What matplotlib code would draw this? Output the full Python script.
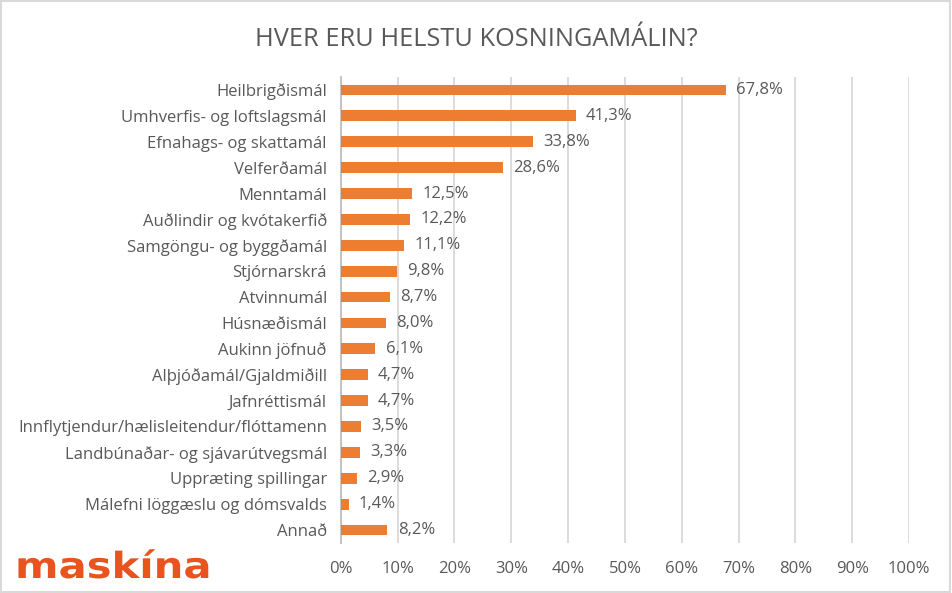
import matplotlib.pyplot as plt
from matplotlib.patches import Rectangle, PathPatch
from matplotlib.textpath import TextPath
from matplotlib.font_manager import FontProperties
from matplotlib.transforms import Affine2D, IdentityTransform

categories = ["Heilbrigðismál", "Umhverfis- og loftslagsmál", "Efnahags- og skattamál",
              "Velferðamál", "Menntamál", "Auðlindir og kvótakerfið",
              "Samgöngu- og byggðamál", "Stjórnarskrá", "Atvinnumál", "Húsnæðismál",
              "Aukinn jöfnuð", "Alþjóðamál/Gjaldmiðill", "Jafnréttismál",
              "Innflytjendur/hælisleitendur/flóttamenn", "Landbúnaðar- og sjávarútvegsmál",
              "Uppræting spillingar", "Málefni löggæslu og dómsvalds", "Annað"]
values = [67.8, 41.3, 33.8, 28.6, 12.5, 12.2, 11.1, 9.8, 8.7, 8.0,
          6.1, 4.7, 4.7, 3.5, 3.3, 2.9, 1.4, 8.2]
xticks = list(range(0, 101, 10))

text_col = "#595959"
plt.rcParams['font.family'] = ['Open Sans', 'DejaVu Sans']

fig = plt.figure(figsize=(9.52, 5.93), dpi=100)
ax = fig.add_axes([0.358, 1 - 543 / 593, 0.597, (543 - 77) / 593])

ypos = list(range(len(categories)))
ax.barh(ypos, values, height=0.42, color="#ED7D31", zorder=3)
for y, v in zip(ypos, values):
    ax.text(v + 1.8, y, f"{v:.1f}%".replace(".", ","), va="center", ha="left",
            fontsize=12, color=text_col)

ax.set_ylim(len(categories) - 0.5, -0.5)
ax.set_xlim(0, 100)
ax.set_yticks(ypos)
ax.set_yticklabels(categories, fontsize=12, color=text_col)
ax.set_xticks(xticks)
ax.set_xticklabels([f"{t}%" for t in xticks], fontsize=12, color=text_col)
ax.tick_params(length=0, pad=10)
ax.tick_params(axis='x', pad=13)
ax.xaxis.grid(True, color="#D9D9D9", linewidth=1.3, zorder=0)
for s in ["top", "right", "bottom"]:
    ax.spines[s].set_visible(False)
ax.spines["left"].set_color("#BFBFBF")
ax.spines["left"].set_linewidth(1.3)

fig.text(0.5, 1 - 40 / 593, "HVER ERU HELSTU KOSNINGAMÁLIN?", ha="center", va="center",
         fontsize=18.3, color=text_col)

# logo, stretched a bit sideways
logo = TextPath((0, 0), "maskína", size=36,
                prop=FontProperties(family="DejaVu Sans", weight="bold"))
fig.patches.append(PathPatch(logo, transform=Affine2D().scale(1.16, 1.0).translate(15, 15)
                             + IdentityTransform(), facecolor="#E8531E", edgecolor="none"))

fig.patches.append(Rectangle((0.001, 0.002), 0.997, 0.996, transform=fig.transFigure,
                             fill=False, edgecolor="#D9D9D9", linewidth=1.5))

fig.savefig("out.png", dpi=100)
